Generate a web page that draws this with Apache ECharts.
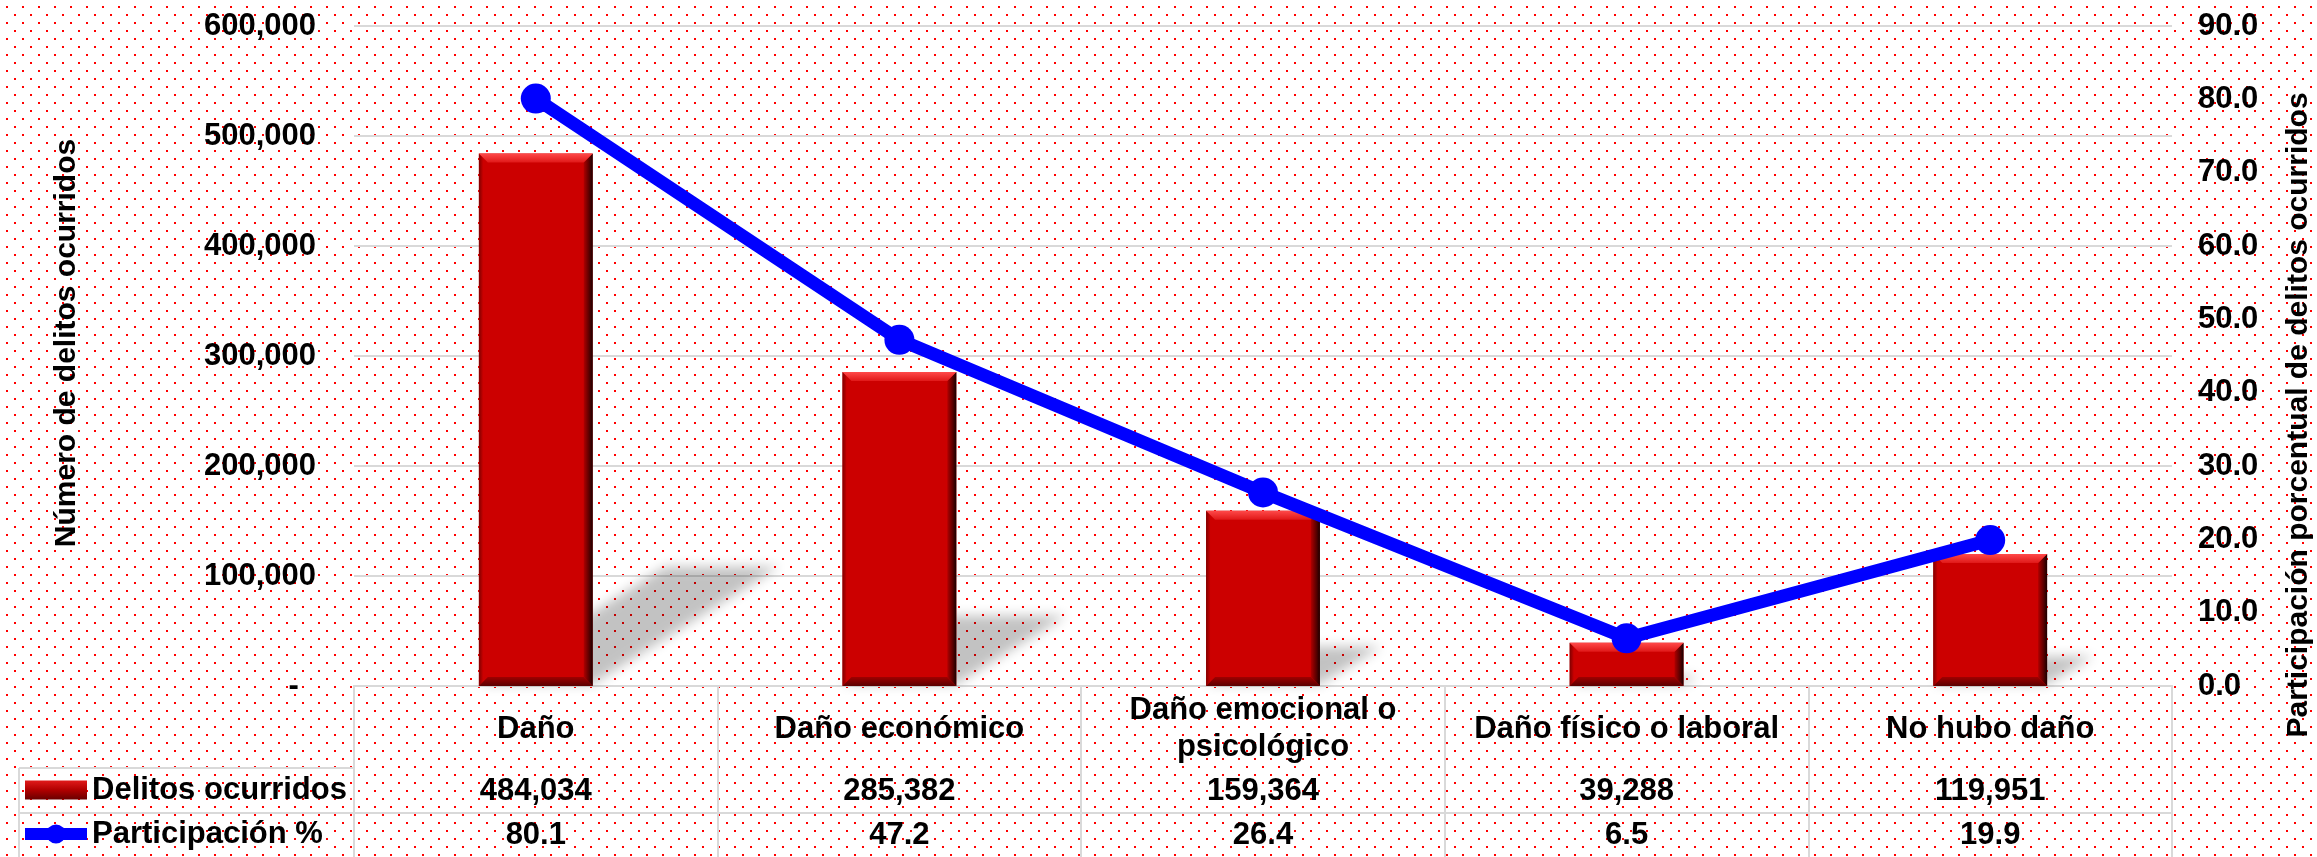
<!DOCTYPE html>
<html>
<head>
<meta charset="utf-8">
<script src="https://cdn.jsdelivr.net/npm/echarts@6/dist/echarts.min.js"></script>
<style>html,body{margin:0;padding:0;background:#fff}#c{width:2317px;height:857px}</style>
</head>
<body>
<div id="c"></div>
<script>
var categories = ['Daño', 'Daño económico', 'Daño emocional o\npsicológico', 'Daño físico o laboral', 'No hubo daño'];
var delitos = [484034, 285382, 159364, 39288, 119951];
var participacion = [80.1, 47.2, 26.4, 6.5, 19.9];
var leftTicks = [0, 100000, 200000, 300000, 400000, 500000, 600000];
var rightTicks = [0, 10, 20, 30, 40, 50, 60, 70, 80, 90];

var FONT = '"Liberation Sans", Arial, sans-serif';
var FS = 31;
var GRID = '#d9d9d9';

function fmtInt(v) { return v.toLocaleString('en-US'); }

// dotted background pattern
var pat = document.createElement('canvas');
pat.width = 16; pat.height = 16;
var pc = pat.getContext('2d');
pc.fillStyle = '#ffffff'; pc.fillRect(0, 0, 16, 16);
pc.fillStyle = '#ff0000';
pc.fillRect(14, 14, 2, 2);
pc.fillRect(6, 6, 2, 2);

var chart = echarts.init(document.getElementById('c'));
var BAR_FRAC = 0.313;
var OFF = 4000;

function barGeom(api) {
  var x = api.value(0), v = api.value(1);
  var top = api.coord([x, v]);
  var base = api.coord([x, 0]);
  var bw = api.size([1, 0])[0] * BAR_FRAC;
  return { l: top[0] - bw / 2, r: top[0] + bw / 2, t: top[1], b: base[1], w: bw };
}

var barData = delitos.map(function (v, i) { return [i, v]; });
function lbl(extra) {
  var o = { fontSize: FS, fontWeight: 'bold', fontFamily: FONT, color: '#000' };
  for (var k in extra) o[k] = extra[k];
  return o;
}

var option = {
  backgroundColor: { image: pat, repeat: 'repeat' },
  animation: false,
  textStyle: { fontFamily: FONT, fontWeight: 'bold', color: '#000' },
  legend: {
    orient: 'vertical',
    left: 19,
    top: 773,
    padding: 0,
    itemWidth: 62,
    itemHeight: 24,
    itemGap: 10,
    textStyle: { fontFamily: FONT, fontWeight: 'bold', fontSize: FS, color: '#000', lineHeight: 34 },
    data: [
      { name: 'Delitos ocurridos', icon: 'path://M0,0 L56,0 L56,17 L0,17 Z',
        itemStyle: { color: new echarts.graphic.LinearGradient(0, 0, 0, 1, [
          { offset: 0, color: '#e01a1a' }, { offset: 0.5, color: '#b00000' }, { offset: 1, color: '#6a0000' }]) } },
      { name: 'Participación %', lineStyle: { width: 12, color: '#0000ff' }, itemStyle: { color: '#0000ff' } }
    ]
  },
  grid: { left: 354, right: 145, top: 26, bottom: 171, outerBoundsMode: 'none' },
  xAxis: [
    {
      type: 'category', data: categories, position: 'bottom',
      axisLine: { show: true, lineStyle: { color: GRID, width: 2 } },
      axisTick: { show: true, interval: 0, length: 171, lineStyle: { color: GRID, width: 2 } },
      axisLabel: lbl({ interval: 0, verticalAlign: 'middle', margin: 43, lineHeight: 37, align: 'center' })
    },
    {
      type: 'category', data: categories, position: 'bottom', offset: 82,
      axisLine: { show: true, lineStyle: { color: GRID, width: 2 } },
      axisTick: { show: false },
      axisLabel: lbl({ interval: 0, verticalAlign: 'middle', margin: 23,
        formatter: function (v, i) { return fmtInt(delitos[i]); } })
    },
    {
      type: 'category', data: categories, position: 'bottom', offset: 127,
      axisLine: { show: true, lineStyle: { color: GRID, width: 2 } },
      axisTick: { show: false },
      axisLabel: lbl({ interval: 0, verticalAlign: 'middle', margin: 22,
        formatter: function (v, i) { return participacion[i].toFixed(1); } })
    }
  ],
  yAxis: [
    {
      type: 'value', min: leftTicks[0], max: leftTicks[leftTicks.length - 1], interval: leftTicks[1] - leftTicks[0],
      position: 'left',
      name: 'Número de delitos ocurridos', nameLocation: 'middle', nameRotate: 90, nameGap: 272,
      nameTextStyle: { fontSize: 30, fontWeight: 'bold', fontFamily: FONT, color: '#000', padding: [0, 0, 0, 26] },
      axisLine: { show: false }, axisTick: { show: false },
      splitLine: { show: true, lineStyle: { color: GRID, width: 2 } },
      axisLabel: lbl({ margin: 38, formatter: function (v) { return v === 0 ? '-  ' : fmtInt(v); } })
    },
    {
      type: 'value', min: rightTicks[0], max: rightTicks[rightTicks.length - 1], interval: rightTicks[1] - rightTicks[0],
      position: 'right',
      name: 'Participación porcentual de delitos ocurridos', nameLocation: 'middle', nameRotate: 90, nameGap: 112,
      nameTextStyle: { fontSize: 30, fontWeight: 'bold', fontFamily: FONT, color: '#000', padding: [0, 118, 0, 0] },
      axisLine: { show: false }, axisTick: { show: false },
      splitLine: { show: false },
      axisLabel: lbl({ margin: 26, formatter: function (v) { return v.toFixed(1); } })
    }
  ],
  graphic: [
    { type: 'line', shape: { x1: 19, y1: 768, x2: 354, y2: 768 }, style: { stroke: GRID, lineWidth: 2 }, z: 5 },
    { type: 'line', shape: { x1: 19, y1: 813, x2: 354, y2: 813 }, style: { stroke: GRID, lineWidth: 2 }, z: 5 },
    { type: 'line', shape: { x1: 19, y1: 768, x2: 19, y2: 857 }, style: { stroke: GRID, lineWidth: 2 }, z: 5 }
  ],
  series: [
    {
      name: 'shadow', type: 'custom', xAxisIndex: 0, yAxisIndex: 0, z: 1, silent: true, clip: false,
      data: barData,
      renderItem: function (params, api) {
        var g = barGeom(api);
        var h = g.b - g.t;
        var dx = 0.35 * h, dy = 0.224 * h;
        return {
          type: 'polygon',
          shape: { points: [[g.l - OFF, g.b - 2], [g.r - OFF, g.b - 2], [g.r + dx - OFF, g.b - dy], [g.l + dx - OFF, g.b - dy]] },
          style: { fill: '#000', shadowBlur: 12, shadowOffsetX: OFF, shadowOffsetY: 0, shadowColor: 'rgba(0,0,0,0.24)' }
        };
      }
    },
    {
      name: 'Delitos ocurridos', type: 'custom', xAxisIndex: 0, yAxisIndex: 0, z: 2,
      itemStyle: { color: '#cc0000' },
      data: barData,
      renderItem: function (params, api) {
        var g = barGeom(api);
        var l = g.l, r = g.r, t = g.t, b = g.b;
        var bev = 9;
        return {
          type: 'group',
          children: [
            { type: 'rect', shape: { x: l, y: t, width: g.w, height: b - t }, style: { fill: '#cc0000' } },
            { type: 'polygon', shape: { points: [[l, t], [l + 4, t + 4], [l + 4, b - 4], [l, b]] },
              style: { fill: new echarts.graphic.LinearGradient(0, 0, 1, 0, [
                { offset: 0, color: '#800000' }, { offset: 1, color: '#c40000' }]) } },
            { type: 'polygon', shape: { points: [[r, t], [r, b], [r - bev, b - bev], [r - bev, t + bev]] },
              style: { fill: new echarts.graphic.LinearGradient(0, 0, 1, 0, [
                { offset: 0, color: '#b00000' }, { offset: 0.6, color: '#5a0000' }, { offset: 1, color: '#1a0000' }]) } },
            { type: 'polygon', shape: { points: [[l, t], [r, t], [r - bev, t + bev], [l + bev, t + bev]] },
              style: { fill: new echarts.graphic.LinearGradient(0, 0, 0, 1, [
                { offset: 0, color: '#ff4a4a' }, { offset: 1, color: '#e01818' }]) } },
            { type: 'polygon', shape: { points: [[l, b], [r, b], [r - bev, b - bev], [l + bev, b - bev]] },
              style: { fill: new echarts.graphic.LinearGradient(0, 0, 0, 1, [
                { offset: 0, color: '#a00000' }, { offset: 1, color: '#5a0000' }]) } }
          ]
        };
      }
    },
    {
      name: 'Participación %', type: 'line', xAxisIndex: 0, yAxisIndex: 1, z: 5,
      data: participacion,
      symbol: 'circle', symbolSize: 30,
      lineStyle: { color: '#0000ff', width: 13 },
      itemStyle: { color: '#0000ff' }
    }
  ]
};
chart.setOption(option);
</script>
</body>
</html>
